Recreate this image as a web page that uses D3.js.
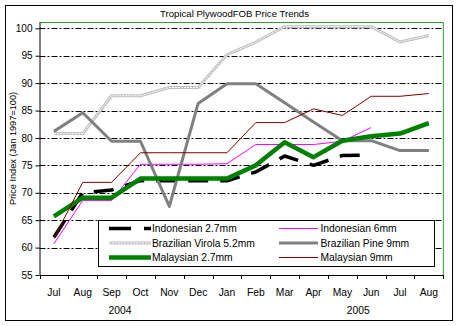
<!DOCTYPE html>
<html><head><meta charset="utf-8">
<script src="https://cdn.jsdelivr.net/npm/d3@7"></script>
<style>body{margin:0;background:#fff}svg{display:block}text{font-family:"Liberation Sans",Arial,sans-serif}</style>
</head><body>
<svg id="c" width="460" height="326"></svg>
<script>
const months = ["Jul","Aug","Sep","Oct","Nov","Dec","Jan","Feb","Mar","Apr","May","Jun","Jul","Aug"];
const years = ["2004","2005"];
const yTicks = [55,60,65,70,75,80,85,90,95,100];
const indonesian27 = [61.9,70.0,70.5,72.2,72.2,72.2,72.2,73.8,76.7,75.0,76.8,76.9,null,null];
const indonesian6 = [60.7,68.6,68.6,75.2,75.2,75.2,75.3,78.8,78.8,78.8,79.4,81.9,null,null];
const virola = [80.8,80.8,87.7,87.7,89.2,89.2,95.2,97.5,100.3,100.3,100.3,100.3,97.5,98.7];
const pine = [81.2,84.6,79.4,79.4,67.5,86.3,89.9,89.9,86.4,82.9,79.5,79.5,77.7,77.7];
const malaysian27 = [65.7,69.1,69.1,72.6,72.6,72.6,72.6,75.0,79.2,76.5,79.5,80.3,80.8,82.7];
const malaysian9 = [61.7,71.9,71.9,77.3,77.3,77.3,77.3,82.8,82.8,85.3,84.1,87.6,87.6,88.1];
const seriesNames = ["Indonesian 2.7mm","Indonesian 6mm","Brazilian Virola 5.2mm","Brazilian Pine 9mm","Malaysian 2.7mm","Malaysian 9mm"];

const series = [
  {name:seriesNames[0], values:indonesian27, style:{stroke:"#000", w:3.5, dash:"20,12"}},
  {name:seriesNames[1], values:indonesian6, style:{stroke:"#ff00ff", w:1}},
  {name:seriesNames[2], values:virola, style:{stroke:"#c0c0c0", w:3, hollow:true}},
  {name:seriesNames[3], values:pine, style:{stroke:"#808080", w:3}},
  {name:seriesNames[4], values:malaysian27, style:{stroke:"#008000", w:4.5}},
  {name:seriesNames[5], values:malaysian9, style:{stroke:"#800000", w:1}}
];

const svg = d3.select("#c");
const L = 39.5, R = 443.3, T = 22, B = 275;
const x = d3.scaleBand().domain(d3.range(months.length)).range([L, R]);
const y = d3.scaleLinear().domain([55, 101.15]).range([B, T]);

// outer border
svg.append("rect").attr("x",5.5).attr("y",5.5).attr("width",447).attr("height",315)
  .attr("fill","#fff").attr("stroke","#000").attr("stroke-width",1);

// title
svg.append("text").attr("x",234.5).attr("y",16.5).attr("text-anchor","middle")
  .attr("font-size","9.6px").text("Tropical PlywoodFOB Price Trends");

// gridlines
svg.append("g").selectAll("line").data(yTicks.filter(d=>d>55)).join("line")
  .attr("x1",L).attr("x2",R).attr("y1",d=>Math.round(y(d))+0.5).attr("y2",d=>Math.round(y(d))+0.5)
  .attr("stroke","#000").attr("stroke-width",1).attr("stroke-dasharray","6,2,2,2");

// plot border (top, right) green
svg.append("path").attr("d",`M${L},${T+0.5}H${R}V${B}`).attr("fill","none")
  .attr("stroke","#339933").attr("stroke-width",1);

// y axis
const yAxis = d3.axisLeft(y).tickValues(yTicks).tickSize(4).tickSizeOuter(0);
const gy = svg.append("g").attr("transform",`translate(${L},0)`).call(yAxis);
gy.select(".domain").attr("stroke","#000");
gy.selectAll("text").attr("font-size","10px").attr("font-family","Liberation Sans, Arial").attr("fill","#000").attr("x",-7);

// x axis
const xAxis = d3.axisBottom(x).tickFormat(i=>months[i]).tickSize(0).tickSizeOuter(0);
const gx = svg.append("g").attr("transform",`translate(0,${B})`).call(xAxis);
gx.select(".domain").attr("stroke","#000");
gx.selectAll("text").attr("font-size","10.3px").attr("font-family","Liberation Sans, Arial").attr("fill","#000").attr("y",14);
// ticks between categories
const bounds = d3.range(months.length+1).map(i => L + i*x.step());
svg.append("g").selectAll("line").data(bounds).join("line")
  .attr("x1",d=>Math.round(d)+0.5).attr("x2",d=>Math.round(d)+0.5).attr("y1",B).attr("y2",B+4)
  .attr("stroke","#000");

// year labels
svg.append("text").attr("x",x(3)-6).attr("y",314).attr("text-anchor","middle")
  .attr("font-size","10.3px").text(years[0]);
svg.append("text").attr("x",x(11)+1.5).attr("y",314).attr("text-anchor","middle")
  .attr("font-size","10.3px").text(years[1]);

// y label
svg.append("text").attr("transform",`translate(16,${(T+B)/2}) rotate(-90)`).attr("text-anchor","middle")
  .attr("font-size","9.2px").text("Price Index (Jan 1997=100)");

// lines
const line = d3.line().defined(d=>d[1]!=null).x(d=>x(d[0])+x.bandwidth()/2).y(d=>y(d[1]));
const gl = svg.append("g");
series.forEach(s=>{
  const pts = s.values.map((v,i)=>[i,v]);
  const p = gl.append("path").attr("d",line(pts)).attr("fill","none")
    .attr("stroke",s.style.stroke).attr("stroke-width",s.style.w).attr("stroke-linejoin","round");
  if(s.style.dash) p.attr("stroke-dasharray",s.style.dash);
  if(s.style.hollow){
    gl.append("path").attr("d",line(pts)).attr("fill","none").attr("stroke","#fff")
      .attr("stroke-width",1).attr("stroke-dasharray","2,1");
  }
});

// legend
const lg = svg.append("g");
lg.append("rect").attr("x",98.5).attr("y",220.5).attr("width",336).attr("height",46)
  .attr("fill","#fff").attr("stroke","#000").attr("stroke-width",1);
const rowY = [228.5,243,257.5];
const colX = [{s:109,e:151,t:152},{s:279,e:318,t:320.5}];
series.forEach((s,i)=>{
  const col = i%2, row = Math.floor(i/2);
  const c = colX[col], yy = rowY[row];
  const l = lg.append("line").attr("x1",c.s).attr("x2",c.e).attr("y1",yy).attr("y2",yy)
    .attr("stroke",s.style.stroke).attr("stroke-width",s.style.w);
  if(s.style.dash) l.attr("stroke-dasharray","22,13");
  if(s.style.hollow){
    lg.append("line").attr("x1",c.s).attr("x2",c.e).attr("y1",yy).attr("y2",yy)
      .attr("stroke","#fff").attr("stroke-width",1).attr("stroke-dasharray","2,1");
  }
  lg.append("text").attr("x",c.t).attr("y",yy+3.6).attr("font-size","10.3px").text(s.name);
});
</script>
</body></html>
